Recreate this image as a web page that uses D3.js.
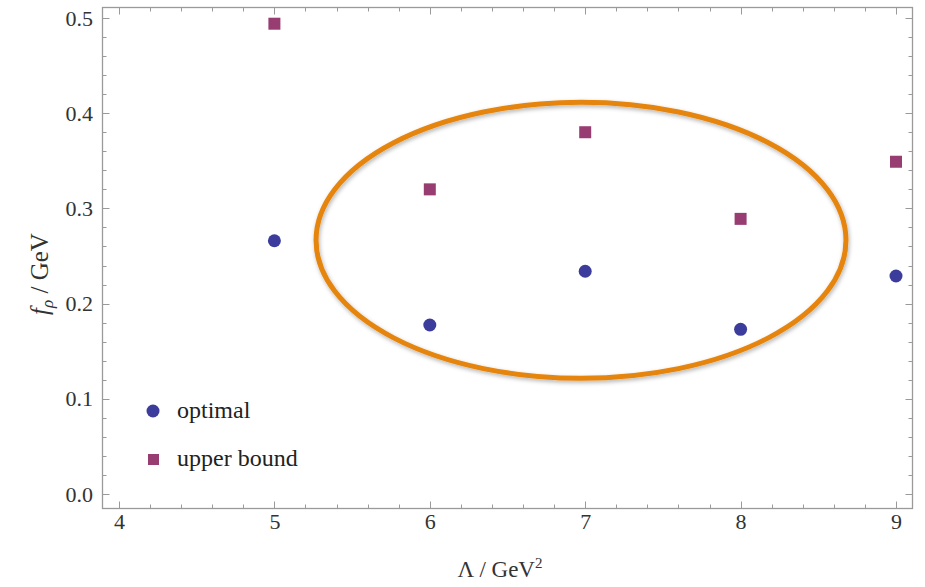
<!DOCTYPE html>
<html><head><meta charset="utf-8">
<script src="https://cdn.jsdelivr.net/npm/d3@7"></script>
<style>body{margin:0;background:#fff}svg{display:block}</style>
</head><body>
<script>
const lambdas = [5, 6, 7, 8, 9];
const optimal = [0.266, 0.1775, 0.234, 0.173, 0.229];
const upperBound = [0.494, 0.320, 0.380, 0.289, 0.349];
const xTicks = [4, 5, 6, 7, 8, 9];
const yTicks = [0.0, 0.1, 0.2, 0.3, 0.4, 0.5];
const seriesNames = ["optimal", "upper bound"];
const ellipseCenter = [6.973, 0.2665];
const ellipseRadii = [1.705, 0.145];

const W = 925, H = 587;
const L = 102, R = 913, T = 7, B = 509;
const svg = d3.select("body").append("svg").attr("width", W).attr("height", H);
const x = d3.scaleLinear().domain([3.8906, 9.1094]).range([L, R]);
const y = d3.scaleLinear().domain([-0.01576, 0.51155]).range([B, T]);

const frameColor = "#9a9a9a";
const font = "Liberation Serif, Times New Roman, serif";

const xMinor = d3.range(3.8, 9.2001, 0.2).map(v => +v.toFixed(2)).filter(v => v > 3.89 && v < 9.11);
const yMinor = d3.range(0, 0.5101, 0.02).map(v => +v.toFixed(3));
const isMajorX = v => Math.abs(v - Math.round(v)) < 1e-6;
const isMajorY = v => Math.abs(v * 10 - Math.round(v * 10)) < 1e-6;

const g = svg.append("g");
const tg = g.append("g").attr("stroke", frameColor).attr("stroke-width", 1);
xMinor.forEach(v => {
  const len = isMajorX(v) ? 7.5 : 4.5;
  const px = Math.round(x(v)) + 0.5;
  tg.append("line").attr("x1", px).attr("x2", px).attr("y1", B).attr("y2", B - len);
  tg.append("line").attr("x1", px).attr("x2", px).attr("y1", T).attr("y2", T + len);
});
yMinor.forEach(v => {
  const len = isMajorY(v) ? 7.5 : 4.5;
  const py = Math.round(y(v)) + 0.5;
  tg.append("line").attr("y1", py).attr("y2", py).attr("x1", L).attr("x2", L + len);
  tg.append("line").attr("y1", py).attr("y2", py).attr("x1", R).attr("x2", R - len);
});

g.append("rect").attr("x", L + 0.5).attr("y", T + 0.5).attr("width", R - L - 1).attr("height", B - T - 1)
  .attr("fill", "none").attr("stroke", frameColor).attr("stroke-width", 1.3);

const xAxis = d3.axisBottom(x).tickValues(xTicks).tickSize(0).tickPadding(4).tickFormat(d3.format("d"));
const xg = svg.append("g").attr("transform", `translate(0,${B})`).call(xAxis);
xg.select(".domain").remove();
xg.selectAll("text").attr("font-family", font).attr("font-size", 22).attr("fill", "#333");

const yAxis = d3.axisLeft(y).tickValues(yTicks).tickSize(0).tickPadding(9).tickFormat(d3.format(".1f"));
const yg = svg.append("g").attr("transform", `translate(${L},0)`).call(yAxis);
yg.select(".domain").remove();
yg.selectAll("text").attr("font-family", font).attr("font-size", 22).attr("fill", "#333");

const xt = svg.append("text").attr("x", 500).attr("y", 577).attr("text-anchor", "middle")
  .attr("font-family", font).attr("font-size", 23).attr("fill", "#333");
xt.append("tspan").text("Λ / GeV");
xt.append("tspan").attr("dy", -9).attr("font-size", 15).text("2");

const yt = svg.append("text").attr("transform", `translate(48,274) rotate(-90)`)
  .attr("text-anchor", "middle").attr("font-family", font).attr("font-size", 25).attr("fill", "#333");
yt.append("tspan").attr("font-style", "italic").text("f");
yt.append("tspan").attr("font-style", "italic").attr("font-size", 17).attr("dy", 5).text("ρ");
yt.append("tspan").attr("dy", -5).text(" / GeV");

const defs = svg.append("defs");
const f = defs.append("filter").attr("id", "sh").attr("x", "-10%").attr("y", "-10%").attr("width", "120%").attr("height", "130%");
f.append("feDropShadow").attr("dx", 1).attr("dy", 2).attr("stdDeviation", 2).attr("flood-color", "#000").attr("flood-opacity", 0.3);

svg.append("ellipse")
  .attr("cx", x(ellipseCenter[0])).attr("cy", y(ellipseCenter[1]))
  .attr("rx", x(ellipseCenter[0] + ellipseRadii[0]) - x(ellipseCenter[0]))
  .attr("ry", y(ellipseCenter[1] - ellipseRadii[1]) - y(ellipseCenter[1]))
  .attr("fill", "none").attr("stroke", "#E6850E").attr("stroke-width", 5).attr("filter", "url(#sh)");

const blue = "#3c3c9c", purple = "#983d72";
svg.append("g").selectAll("circle").data(lambdas.map((l, i) => [l, optimal[i]])).join("circle")
  .attr("cx", d => x(d[0])).attr("cy", d => y(d[1])).attr("r", 6.5).attr("fill", blue);
svg.append("g").selectAll("rect").data(lambdas.map((l, i) => [l, upperBound[i]])).join("rect")
  .attr("x", d => x(d[0]) - 6).attr("y", d => y(d[1]) - 6).attr("width", 12).attr("height", 12).attr("fill", purple);

const lg = svg.append("g").attr("font-family", font).attr("font-size", 24).attr("fill", "#222");
lg.append("circle").attr("cx", 153).attr("cy", 411).attr("r", 6.5).attr("fill", blue);
lg.append("text").attr("x", 177).attr("y", 418).text(seriesNames[0]);
lg.append("rect").attr("x", 148).attr("y", 454).attr("width", 11).attr("height", 11).attr("fill", purple);
lg.append("text").attr("x", 177).attr("y", 466).text(seriesNames[1]);
</script>
</body></html>
